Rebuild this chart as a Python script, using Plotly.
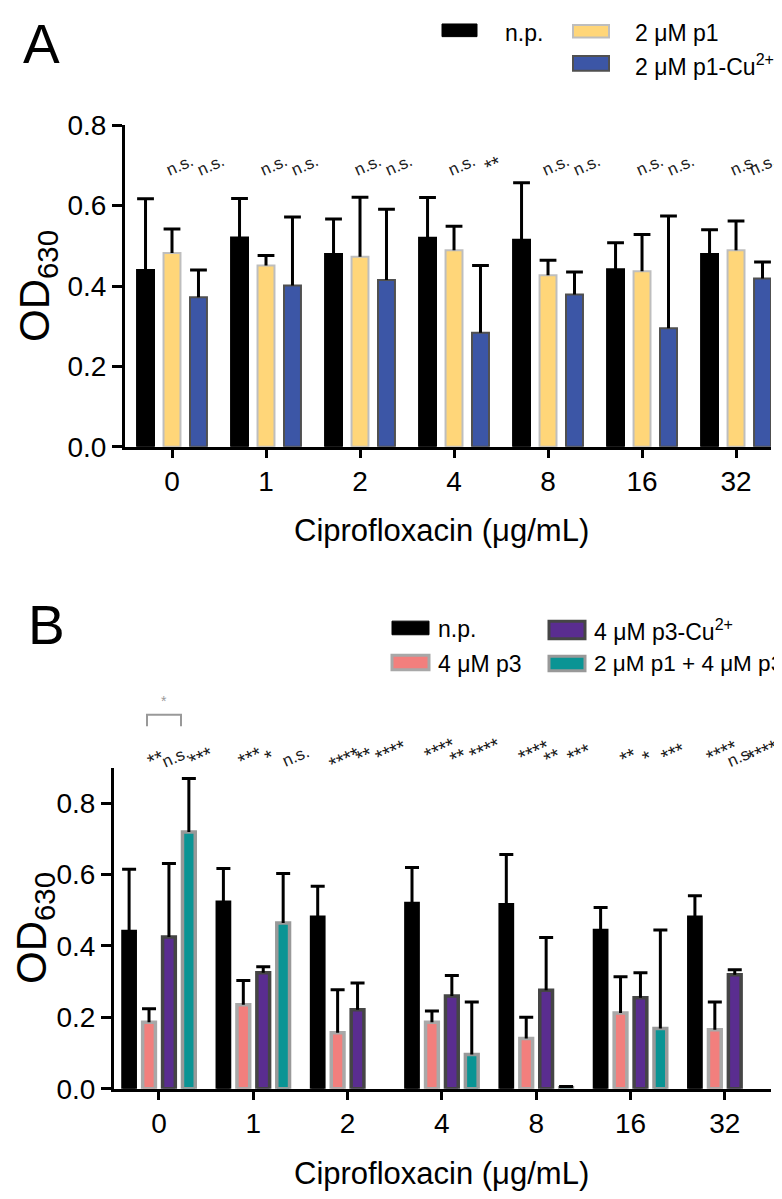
import plotly.graph_objects as go

W, H = 782, 1199

# ---------------- data ----------------
categories = ["0", "1", "2", "4", "8", "16", "32"]

# Panel A
a_np = [0.440, 0.521, 0.480, 0.520, 0.515, 0.442, 0.480]
a_np_sd = [0.177, 0.097, 0.087, 0.100, 0.142, 0.066, 0.060]
a_p1 = [0.482, 0.451, 0.473, 0.489, 0.427, 0.437, 0.489]
a_p1_sd = [0.060, 0.025, 0.148, 0.060, 0.037, 0.091, 0.073]
a_p1cu = [0.372, 0.401, 0.415, 0.284, 0.379, 0.295, 0.419]
a_p1cu_sd = [0.068, 0.171, 0.176, 0.167, 0.056, 0.279, 0.041]
a_sig_p1 = ["n.s.", "n.s.", "n.s.", "n.s.", "n.s.", "n.s.", "n.s."]
a_sig_p1cu = ["n.s.", "n.s.", "n.s.", "**", "n.s.", "n.s.", "n.s."]

# Panel B
b_np = [0.441, 0.523, 0.481, 0.520, 0.516, 0.444, 0.481]
b_np_sd = [0.174, 0.094, 0.086, 0.100, 0.140, 0.064, 0.060]
b_p3 = [0.186, 0.235, 0.157, 0.186, 0.141, 0.212, 0.165]
b_p3_sd = [0.038, 0.068, 0.120, 0.032, 0.059, 0.102, 0.078]
b_p3cu = [0.425, 0.325, 0.221, 0.260, 0.276, 0.255, 0.319]
b_p3cu_sd = [0.206, 0.017, 0.075, 0.057, 0.148, 0.070, 0.014]
b_p1p3 = [0.719, 0.464, 0.0, 0.096, 0.003, 0.169, 0.0]
b_p1p3_sd = [0.150, 0.139, 0.0, 0.147, 0.003, 0.276, 0.0]
b_sig_p3 = ["**", "***", "****", "****", "****", "**", "****"]
b_sig_p3cu = ["n.s.", "*", "**", "**", "**", "*", "n.s."]
b_sig_p1p3 = ["***", "n.s.", "****", "****", "***", "***", "****"]

# ---------------- layout helpers ----------------
FONT = "Liberation Sans, Arial, sans-serif"
xpos = list(range(len(categories)))


def PX(x):
    return x / W


def PY(y):
    return 1 - y / H


A_DOM = [PX(117), PX(763)]
A_RNG = [-0.5, 6.372]
B_DOM = [PX(106), PX(763)]
B_RNG = [-0.477, 6.49]


def data_to_paper(x, dom, rng):
    return dom[0] + (x - rng[0]) / (rng[1] - rng[0]) * (dom[1] - dom[0])


fig = go.Figure()


def add_series(vals, sds, fill, edge, edge_w, cap, xa, ya):
    widths = [edge_w if v and v > 0.001 else 0 for v in vals]
    fig.add_trace(go.Bar(
        x=xpos, y=vals, xaxis=xa, yaxis=ya,
        marker=dict(color=fill, line=dict(color=edge, width=widths)),
        error_y=dict(type="data", symmetric=False, array=sds,
                     arrayminus=[0] * len(sds), color="black",
                     thickness=3, width=0),
        showlegend=False,
    ))
    caps = [v + s if (s and s > 0) else None for v, s in zip(vals, sds)]
    fig.add_trace(go.Scatter(
        x=xpos, y=caps, mode="markers", xaxis=xa, yaxis=ya,
        marker=dict(symbol="line-ew", size=cap,
                    line=dict(color="black", width=3)),
        showlegend=False, hoverinfo="skip",
    ))


add_series(a_np, a_np_sd, "#000000", "#000000", 2, 12, "x", "y")
add_series(a_p1, a_p1_sd, "#FFD679", "#BEBEBE", 2, 12, "x", "y")
add_series(a_p1cu, a_p1cu_sd, "#3C56A6", "#505050", 2, 12, "x", "y")

add_series(b_np, b_np_sd, "#000000", "#000000", 3, 10, "x2", "y2")
add_series(b_p3, b_p3_sd, "#F27F7D", "#A8A8A8", 3.5, 10, "x2", "y2")
add_series(b_p3cu, b_p3cu_sd, "#5A2D90", "#454545", 3.5, 10, "x2", "y2")
add_series(b_p1p3, b_p1p3_sd, "#0A9494", "#999999", 3.5, 10, "x2", "y2")

axis_common = dict(
    showline=True, linecolor="black", linewidth=3, mirror=False,
    showgrid=False, zeroline=False, ticks="outside", tickwidth=3,
    tickcolor="black", tickfont=dict(family=FONT, size=28, color="black"),
)

fig.update_layout(
    width=W, height=H, autosize=False,
    margin=dict(l=0, r=0, t=0, b=0),
    paper_bgcolor="white", plot_bgcolor="white",
    barmode="group", bargap=0.155, bargroupgap=0.36,
    scattermode="group", scattergap=0.155,
    xaxis=dict(domain=A_DOM, range=A_RNG,
               tickvals=xpos, ticktext=categories, ticklen=8,
               anchor="y", **axis_common),
    yaxis=dict(domain=[PY(435), PY(105)], range=[0, 0.8],
               tickvals=[0, 0.2, 0.4, 0.6, 0.8], tickformat=".1f",
               ticklen=10, anchor="x", **axis_common),
    xaxis2=dict(domain=B_DOM, range=B_RNG,
                tickvals=xpos, ticktext=categories, ticklen=8,
                anchor="y2", **axis_common),
    yaxis2=dict(domain=[PY(1094), PY(765)], range=[0, 0.898],
                tickvals=[0, 0.2, 0.4, 0.6, 0.8], tickformat=".1f",
                ticklen=10, anchor="x2", **axis_common),
)

ann = []
shapes = []


def text(x, y, t, size, color="black", xanchor="center", yanchor="middle",
         angle=0):
    ann.append(dict(x=x, y=y, xref="paper", yref="paper", text=t,
                    showarrow=False, xanchor=xanchor, yanchor=yanchor,
                    textangle=angle, borderpad=0,
                    font=dict(family=FONT, size=size, color=color)))


# panel letters
text(PX(14), PY(22), "A", 55, xanchor="left")
text(PX(19), PY(618), "B", 55, xanchor="left")

# axis titles
text(PX(29), PY(270), "OD<sub>630</sub>", 42, angle=-90)
text(PX(27), PY(929), "OD<sub>630</sub>", 42, angle=-90)
text(PX(433), PY(521), "Ciprofloxacin (μg/mL)", 31)
text(PX(433), PY(1181), "Ciprofloxacin (μg/mL)", 31)


# legends
def swatch(x0, y0, x1, y1, fill, edge, w):
    shapes.append(dict(type="rect", xref="paper", yref="paper",
                       x0=PX(x0), x1=PX(x1), y0=PY(y1), y1=PY(y0),
                       fillcolor=fill, line=dict(color=edge, width=w)))


swatch(434, 1, 469, 14, "#000000", "#000000", 1)
text(PX(496), PY(10), "n.p.", 23, xanchor="left")
swatch(565, 2, 601, 15, "#FFD679", "#BEBEBE", 2)
text(PX(626), PY(10), "2 μM p1", 23, xanchor="left")
swatch(565, 34, 601, 49, "#3C56A6", "#505050", 2)
text(PX(626), PY(43), "2 μM p1-Cu<sup>2+</sup>", 23, xanchor="left")

swatch(384, 614, 421, 628, "#000000", "#000000", 1)
text(PX(429), PY(622), "n.p.", 23, xanchor="left")
swatch(541, 614, 577, 632, "#5A2D90", "#454545", 3)
text(PX(585), PY(623), "4 μM p3-Cu<sup>2+</sup>", 23, xanchor="left")
swatch(384, 649, 421, 664, "#F27F7D", "#A8A8A8", 3)
text(PX(429), PY(658), "4 μM p3", 23, xanchor="left")
swatch(541, 650, 577, 665, "#0A9494", "#999999", 3)
text(PX(585), PY(658), "2 μM p1 + 4 μM p3", 22.5, xanchor="left")

MAXX = PX(754)

# significance labels panel A
for k in xpos:
    for lab, dx in ((a_sig_p1[k], 0.08), (a_sig_p1cu[k], 0.41)):
        star = lab.startswith("*")
        yv = 140 if star else 145
        xp = min(data_to_paper(k + dx, A_DOM, A_RNG), MAXX)
        text(xp, PY(yv + (6 if star else 1)),
             lab, 20 if star else 17, color="#1a1a1a", angle=-24)

# significance labels panel B
b_lab_y = [[750, 753, 747], [747, 747, 752], [750, 746, 742],
           [740, 747, 740], [742, 747, 744], [747, 748, 743],
           [742, 752, 742]]
for k in xpos:
    labs = (b_sig_p3[k], b_sig_p3cu[k], b_sig_p1p3[k])
    for j, (lab, dx) in enumerate(zip(labs, (-0.03, 0.17, 0.45))):
        star = lab.startswith("*")
        yv = b_lab_y[k][j]
        xp = min(data_to_paper(k + dx, B_DOM, B_RNG), MAXX)
        text(xp, PY(yv + (6 if star else 1)),
             lab, 20 if star else 17, color="#1a1a1a", angle=-24)

# bracket with grey asterisk (panel B, group 0)
shapes.append(dict(type="path", xref="paper", yref="paper",
                   path=f"M {PX(139)},{PY(722)} L {PX(139)},{PY(710)} "
                        f"L {PX(173)},{PY(710)} L {PX(173)},{PY(722)}",
                   line=dict(color="#999999", width=2)))
text(PX(156), PY(696), "*", 14, color="#999999")

fig.update_layout(annotations=ann, shapes=shapes)
fig.write_html("out.html")
